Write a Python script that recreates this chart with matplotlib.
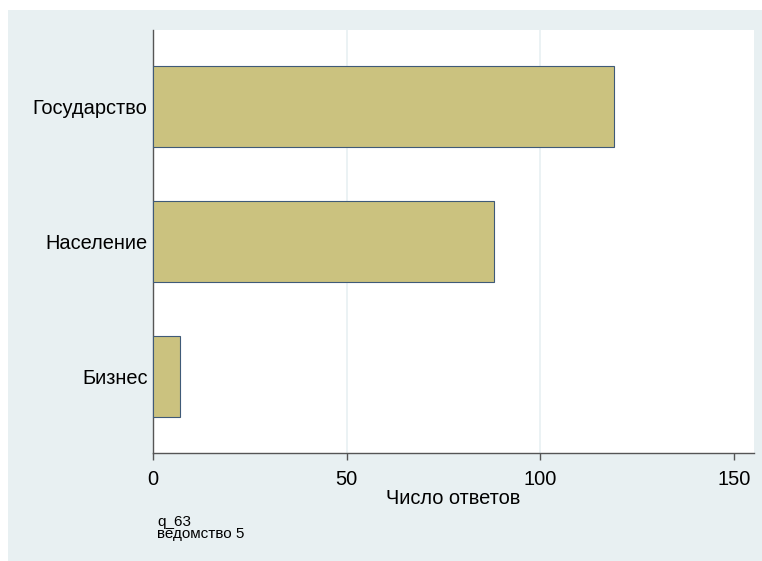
import matplotlib
matplotlib.use('Agg')
import matplotlib.pyplot as plt
from matplotlib.patches import Rectangle

plt.rcParams['font.family'] = ['Liberation Sans', 'DejaVu Sans']

categories = ['Государство', 'Население', 'Бизнес']
counts = [119, 88, 7]
xticks = [0, 50, 100, 150]
xlabel = 'Число ответов'
note = 'q_63\nведомство 5'

BG = '#E8F0F2'
BAR = '#CBC27F'
EDGE = '#3F5A78'
AX = '#555555'

fig = plt.figure(figsize=(7.62, 5.61), dpi=100, facecolor='white')
# outer graph region (Stata-style), offset from top/left edge
fig.patches.append(Rectangle((8 / 762, 0), 1, (561 - 10) / 561,
                             transform=fig.transFigure, facecolor=BG,
                             edgecolor='none', zorder=-10))

ax = fig.add_axes([153 / 762, 1 - 453 / 561, 601 / 762, 423 / 561])
ax.set_zorder(1)
ax.set_facecolor('white')

pos = list(range(1, len(categories) + 1))
ax.barh(pos, counts, height=0.596, color=BAR, edgecolor=EDGE,
        linewidth=0.8, zorder=3)
ax.set_ylim(3.567, 0.433)
ax.set_xlim(0, 155.1)

ax.set_yticks(pos)
ax.set_yticklabels(categories, fontsize=14.4)
ax.tick_params(axis='y', length=0, pad=4)

ax.set_xticks(xticks)
ax.set_xticklabels([str(t) for t in xticks], fontsize=14.4)
ax.tick_params(axis='x', length=5, width=1, color=AX, pad=7)

ax.grid(axis='x', color=BG, linewidth=1.2, zorder=0)
gl = ax.xaxis.get_gridlines()
gl[0].set_visible(False)
gl[-1].set_visible(False)

for s in ['top', 'right']:
    ax.spines[s].set_visible(False)
for s in ['left', 'bottom']:
    ax.spines[s].set_color(AX)
    ax.spines[s].set_linewidth(1)

ax.set_xlabel(xlabel, fontsize=14.4, labelpad=0)

fig.text(157 / 762, 1 - 541 / 561, note, fontsize=11, ha='left',
         va='bottom', linespacing=0.82)

fig.savefig('out.png', dpi=100, facecolor=fig.get_facecolor())
